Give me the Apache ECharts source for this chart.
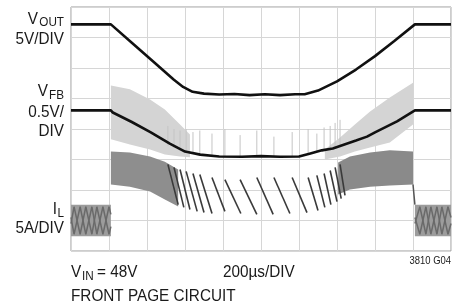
<!DOCTYPE html>
<html>
<head>
<meta charset="utf-8">
<script src="https://cdn.jsdelivr.net/npm/echarts@6/dist/echarts.min.js"></script>
<style>
	html, body { margin: 0; padding: 0; background: #fff; }
	#scope { width: 452px; height: 305px; }
</style>
</head>
<body>
<div id="scope"></div>
<script>
'use strict'
/*--data, in scope divisions (x: 0..10, y: 0..8)--*/
var voutX = [0, 1.05, 1.6, 2.2, 2.7, 2.95, 3.2, 3.5, 3.9, 4.3, 4.7, 5.1, 5.5, 5.9, 6.15, 6.5, 7.0, 7.5, 8.0, 8.5, 9.05, 10];
var voutY = [7.43, 7.43, 6.83, 6.17, 5.62, 5.38, 5.22, 5.16, 5.13, 5.15, 5.11, 5.14, 5.11, 5.14, 5.14, 5.26, 5.56, 5.95, 6.39, 6.88, 7.43, 7.43];

var vfbX = [0, 1.05, 1.1, 1.6, 2.1, 2.6, 3.0, 3.4, 3.9, 4.5, 5.0, 5.5, 6.0, 6.3, 6.6, 6.89, 7.5, 7.79, 8.0, 8.58, 9.05, 10];
var vfbY = [4.61, 4.61, 4.54, 4.23, 3.89, 3.52, 3.26, 3.16, 3.10, 3.09, 3.11, 3.09, 3.10, 3.20, 3.30, 3.36, 3.62, 3.75, 3.89, 4.25, 4.61, 4.61];

var vfbRippleLeftX = [1.05, 1.55, 2.08, 2.47, 2.87, 3.13];
var vfbRippleLeftHi = [5.43, 5.30, 4.97, 4.64, 4.15, 3.82];
var vfbRippleLeftLo = [3.66, 3.49, 3.33, 3.16, 3.10, 3.07];
var vfbRippleRightX = [6.68, 7.08, 7.47, 7.87, 8.39, 9.0];
var vfbRippleRightHi = [3.33, 3.72, 4.15, 4.57, 5.03, 5.52];
var vfbRippleRightLo = [3.0, 3.10, 3.26, 3.39, 3.56, 4.15];

var ilBandLeftX = [1.05, 1.55, 2.08, 2.47, 2.82];
var ilBandLeftHi = [3.26, 3.23, 3.10, 2.93, 2.67];
var ilBandLeftLo = [2.18, 2.11, 1.95, 1.69, 1.46];
var ilBandRightX = [7.03, 7.34, 7.87, 8.39, 9.0];
var ilBandRightHi = [2.90, 3.10, 3.23, 3.30, 3.26];
var ilBandRightLo = [1.85, 2.02, 2.11, 2.15, 2.18];

var ilIdleLeftX = [0, 1.05];
var ilIdleRightX = [9.05, 10];
var ilIdleHi = [1.52, 1.52];
var ilIdleLo = [0.48, 0.48];
var ilZigLeftX = [0, 0.08, 0.24, 0.39, 0.55, 0.68, 0.84, 1.0, 1.05];
var ilZigLeftA = [1.1, 0.55, 1.45, 0.55, 1.45, 0.55, 1.45, 0.55, 0.8];
var ilZigLeftB = [0.9, 1.45, 0.55, 1.45, 0.55, 1.45, 0.55, 1.45, 1.2];
var ilZigRightX = [9.05, 9.18, 9.34, 9.47, 9.63, 9.76, 9.92, 10];
var ilZigRightA = [1.1, 0.55, 1.45, 0.55, 1.45, 0.55, 1.45, 1.1];
var ilZigRightB = [0.9, 1.45, 0.55, 1.45, 0.55, 1.45, 0.55, 0.9];
var ilStepRight = [[9.0, 2.18], [9.05, 1.52]];

var ilStrokeX0 = [2.55, 2.71, 2.87, 3.03, 3.21, 3.39, 3.71, 4.05, 4.45, 4.89, 5.34, 5.82, 6.24, 6.47, 6.66, 6.82, 6.95, 7.08];
var ilStrokeY0 = [2.84, 2.74, 2.67, 2.61, 2.54, 2.51, 2.41, 2.34, 2.34, 2.41, 2.41, 2.41, 2.41, 2.48, 2.54, 2.64, 2.74, 2.84];
var ilStrokeX1 = [2.82, 2.97, 3.13, 3.32, 3.50, 3.71, 4.05, 4.47, 4.89, 5.32, 5.76, 6.21, 6.50, 6.68, 6.84, 7.00, 7.11, 7.21];
var ilStrokeY1 = [1.52, 1.43, 1.36, 1.30, 1.26, 1.23, 1.30, 1.23, 1.20, 1.20, 1.23, 1.26, 1.33, 1.43, 1.52, 1.62, 1.72, 1.82];
var vfbSpikeLo = [3.45, 3.38, 3.3, 3.24, 3.2, 3.16, 3.12, 3.1, 3.1, 3.1, 3.1, 3.1, 3.15, 3.25, 3.3, 3.35, 3.4, 3.47];
var vfbSpikeHi = [4.1, 4.0, 3.95, 4.0, 3.9, 3.95, 3.85, 4.0, 3.8, 3.95, 3.75, 3.9, 4.0, 3.85, 4.05, 4.1, 4.2, 4.3];

function pairs(xs, ys) {
	return xs.map(function (x, i) { return [x, ys[i]]; });
}

// filled envelope between hi and lo, one polygon
function envelope(xs, hi, lo, color, z) {
	return {
		type: 'custom',
		silent: true,
		z: z,
		data: pairs(xs, hi),
		renderItem: function (params, api) {
			if (params.dataIndex !== 0) return;
			var pts = [];
			for (var i = 0; i < xs.length; i++) pts.push(api.coord([xs[i], hi[i]]));
			for (var j = xs.length - 1; j >= 0; j--) pts.push(api.coord([xs[j], lo[j]]));
			return { type: 'polygon', shape: { points: pts }, style: { fill: color } };
		}
	};
}

function trace(data, color, width, z) {
	return {
		type: 'line',
		data: data,
		symbol: 'none',
		silent: true,
		z: z,
		lineStyle: { color: color, width: width }
	};
}

var strokeData = ilStrokeX0.map(function (x, i) {
	return [x, ilStrokeY0[i], ilStrokeX1[i], ilStrokeY1[i]];
});
var spikeData = ilStrokeX0.map(function (x, i) {
	return [x, vfbSpikeLo[i], vfbSpikeHi[i]];
});

var chart = echarts.init(document.getElementById('scope'));
var txt = '#1a1a1a';
var font = '"Liberation Sans", Arial, sans-serif';
// condensed look: regular sans squeezed horizontally
function label(s, x, y, size, align) {
	return {
		type: 'text',
		x: x, y: y, scaleX: 0.9,
		style: {
			text: s, x: 0, y: 0, fill: txt,
			font: size + 'px ' + font,
			align: align || 'left', verticalAlign: 'middle'
		}
	};
}

var option = {
	animation: false,
	grid: {
		left: 71, top: 7, right: 1, bottom: 54,
		show: true, borderColor: '#9a9a9a', borderWidth: 1
	},
	xAxis: {
		type: 'value', min: 0, max: 10, interval: 1,
		axisLine: { show: false }, axisTick: { show: false }, axisLabel: { show: false },
		splitLine: { lineStyle: { color: '#d6d6d6', width: 1 } }
	},
	yAxis: {
		type: 'value', min: 0, max: 8, interval: 1,
		axisLine: { show: false }, axisTick: { show: false }, axisLabel: { show: false },
		splitLine: { lineStyle: { color: '#d6d6d6', width: 1 } }
	},
	series: [
		envelope(vfbRippleLeftX, vfbRippleLeftHi, vfbRippleLeftLo, '#d4d4d4', 1),
		envelope(vfbRippleRightX, vfbRippleRightHi, vfbRippleRightLo, '#d4d4d4', 1),
		{
			type: 'custom', silent: true, z: 2, data: spikeData,
			renderItem: function (params, api) {
				var a = api.coord([api.value(0), api.value(1)]);
				var b = api.coord([api.value(0), api.value(2)]);
				return { type: 'line', shape: { x1: a[0], y1: a[1], x2: b[0], y2: b[1] }, style: { stroke: '#c4c4c4', lineWidth: 1 } };
			}
		},
		envelope(ilBandLeftX, ilBandLeftHi, ilBandLeftLo, '#8e8e8e', 3),
		envelope(ilBandRightX, ilBandRightHi, ilBandRightLo, '#8a8a8a', 3),
		envelope(ilIdleLeftX, ilIdleHi, ilIdleLo, '#9c9c9c', 3),
		envelope(ilIdleRightX, ilIdleHi, ilIdleLo, '#9c9c9c', 3),
		trace(pairs(ilZigLeftX, ilZigLeftA), '#6a6a6a', 1.5, 4),
		trace(pairs(ilZigLeftX, ilZigLeftB), '#6a6a6a', 1.5, 4),
		trace(pairs(ilZigRightX, ilZigRightA), '#6a6a6a', 1.5, 4),
		trace(pairs(ilZigRightX, ilZigRightB), '#6a6a6a', 1.5, 4),
		trace(ilStepRight, '#555', 1.5, 4),
		{
			type: 'custom', silent: true, z: 5, data: strokeData,
			renderItem: function (params, api) {
				var a = api.coord([api.value(0), api.value(1)]);
				var b = api.coord([api.value(2), api.value(3)]);
				return { type: 'line', shape: { x1: a[0], y1: a[1], x2: b[0], y2: b[1] }, style: { stroke: '#3a3a3a', lineWidth: 1.6 } };
			}
		},
		trace(pairs(vfbX, vfbY), '#111', 2.6, 6),
		trace(pairs(voutX, voutY), '#111', 2.6, 6)
	],
	graphic: [
		label('V', 38, 19, 17, 'right'),
		label('OUT', 64, 22, 13, 'right'),
		label('5V/DIV', 64, 39, 17, 'right'),
		label('V', 48, 91, 17, 'right'),
		label('FB', 64, 95, 13, 'right'),
		label('0.5V/', 64, 112.5, 17, 'right'),
		label('DIV', 64, 131, 17, 'right'),
		label('I', 57, 209.5, 17, 'right'),
		label('L', 64, 213, 13, 'right'),
		label('5A/DIV', 64, 228.5, 17, 'right'),
		label('V', 71, 272, 17),
		label('IN', 82, 276, 13),
		label('= 48V', 97, 272, 17),
		label('200µs/DIV', 223, 272, 17),
		label('FRONT PAGE CIRCUIT', 71, 296.5, 17),
		label('3810 G04', 451, 261.5, 10.5, 'right')
	]
};
chart.setOption(option);
</script>
</body>
</html>
